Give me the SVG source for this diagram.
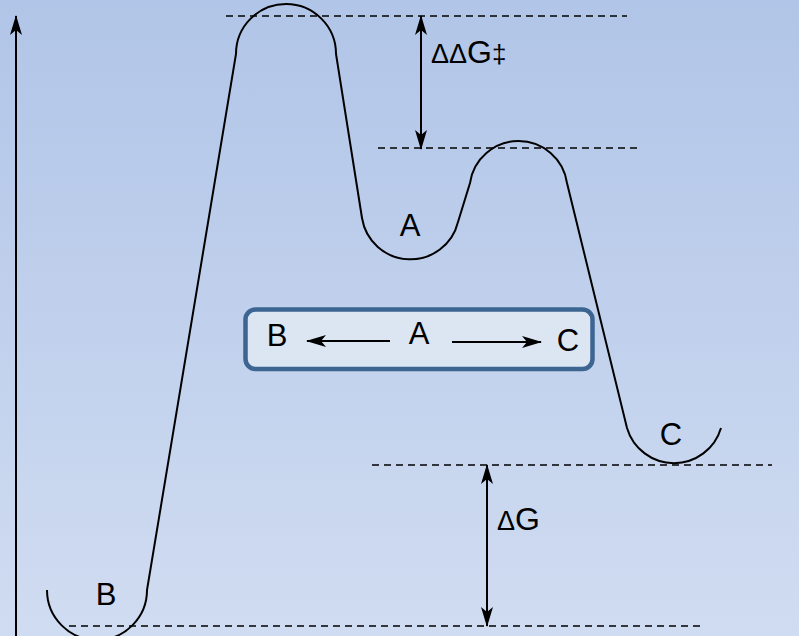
<svg xmlns="http://www.w3.org/2000/svg" width="799" height="636" viewBox="0 0 799 636">
<defs>
<linearGradient id="bg" x1="0" y1="0" x2="0" y2="1">
<stop offset="0" stop-color="#b1c5e8"/>
<stop offset="1" stop-color="#d0dcf1"/>
</linearGradient>
<marker id="ah" viewBox="0 0 20 12" refX="19" refY="6" markerWidth="20" markerHeight="12" markerUnits="userSpaceOnUse" orient="auto-start-reverse">
<path d="M0,0 L20,6 L0,12 L5,6 Z" fill="#000"/>
</marker>
</defs>
<style>
.dash{stroke:#000;stroke-width:1.5;stroke-dasharray:7 5;fill:none}
.ln{stroke:#000;stroke-width:2;fill:none}
.curve{stroke:#000;stroke-width:2;fill:none}
.lbl{font-family:"Liberation Sans",Arial,sans-serif;font-size:31px;fill:#000}
</style>
<rect x="0" y="0" width="799" height="636" fill="url(#bg)"/>
<g id="guides">
<line class="dash" x1="226" y1="16" x2="627" y2="16"/>
<line class="dash" x1="378" y1="148" x2="637" y2="148"/>
<line class="dash" x1="372" y1="465" x2="772" y2="465"/>
<line class="dash" x1="69" y1="626" x2="705" y2="626"/>
</g>
<g id="energy-curve">
<path class="curve" d="M47,590 A50,50 0 0 0 147,590 L236,54 A50,50 0 0 1 336,54 L362,218 A49,49 0 0 0 458,222 L470,183 A49,49 0 0 1 567,183 L627,428 A49,49 0 0 0 721,428"/>
</g>
<g id="box">
<rect x="245.5" y="309.5" width="347" height="59.5" rx="10" fill="#dce5f2" stroke="#3d6591" stroke-width="4.5"/>
<text class="lbl" x="277" y="346" text-anchor="middle">B</text>
<text class="lbl" x="419" y="344" text-anchor="middle">A</text>
<text class="lbl" x="568" y="351" text-anchor="middle">C</text>
</g>
<g id="connectors">
<line class="ln" x1="16" y1="636" x2="16" y2="16" marker-end="url(#ah)"/>
<line class="ln" x1="421" y1="16" x2="421" y2="149" marker-start="url(#ah)" marker-end="url(#ah)"/>
<line class="ln" x1="487" y1="465" x2="487" y2="626" marker-start="url(#ah)" marker-end="url(#ah)"/>
<line class="ln" x1="390" y1="341" x2="307" y2="341" marker-end="url(#ah)"/>
<line class="ln" x1="452" y1="342" x2="541" y2="342" marker-end="url(#ah)"/>
</g>
<g id="label-A"><text class="lbl" x="410" y="236" text-anchor="middle">A</text></g>
<g id="label-C"><text class="lbl" x="671" y="445" text-anchor="middle">C</text></g>
<g id="label-B"><text class="lbl" x="106" y="605" text-anchor="middle">B</text></g>
<g id="label-ddG"><text class="lbl" x="431" y="63"><tspan font-size="27">ΔΔ</tspan><tspan font-size="32">G</tspan><tspan font-size="26">‡</tspan></text></g>
<g id="label-dG"><text class="lbl" x="497" y="530"><tspan font-size="27">Δ</tspan><tspan font-size="32">G</tspan></text></g>
</svg>
